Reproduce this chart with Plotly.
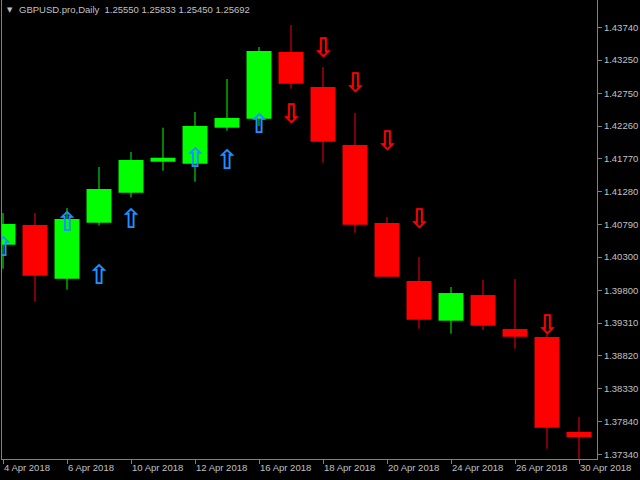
import plotly.graph_objects as go

dates = ["4 Apr 2018", "5 Apr 2018", "6 Apr 2018", "9 Apr 2018", "10 Apr 2018",
         "11 Apr 2018", "12 Apr 2018", "13 Apr 2018", "16 Apr 2018", "17 Apr 2018",
         "18 Apr 2018", "19 Apr 2018", "20 Apr 2018", "23 Apr 2018", "24 Apr 2018",
         "25 Apr 2018", "26 Apr 2018", "27 Apr 2018", "30 Apr 2018"]
opens  = [1.40485, 1.40780, 1.39975, 1.40814, 1.41263, 1.41727, 1.41697, 1.42237, 1.42371, 1.43370,
          1.42846, 1.41977, 1.40810, 1.39941, 1.39347, 1.39731, 1.39222, 1.39102, 1.37680]
highs  = [1.40959, 1.40959, 1.41034, 1.41648, 1.41873, 1.42237, 1.42472, 1.42966, 1.43445, 1.43774,
          1.43145, 1.42457, 1.40899, 1.40300, 1.39851, 1.39956, 1.39971, 1.39162, 1.37905]
lows   = [1.40125, 1.39631, 1.39811, 1.40775, 1.41194, 1.41593, 1.41428, 1.42192, 1.42262, 1.42821,
          1.41712, 1.40664, 1.40005, 1.39227, 1.39152, 1.39207, 1.38927, 1.37430, 1.37250]
closes = [1.40795, 1.40020, 1.40869, 1.41319, 1.41753, 1.41787, 1.42262, 1.42382, 1.43385, 1.42895,
          1.42027, 1.40784, 1.40005, 1.39362, 1.39761, 1.39272, 1.39107, 1.37744, 1.37605]

up_arrow_idx = [0, 2, 3, 4, 6, 7, 8]
up_arrow_val = [1.40420, 1.40795, 1.39996, 1.40836, 1.41750, 1.41720, 1.42259]
dn_arrow_idx = [9, 10, 11, 12, 13, 17]
dn_arrow_val = [1.42404, 1.43396, 1.42868, 1.42000, 1.40832, 1.39248]

tick_idx = [0, 2, 4, 6, 8, 10, 12, 14, 16, 18]
price_ticks = [1.43740, 1.43250, 1.42750, 1.42260, 1.41770, 1.41280, 1.40790,
               1.40300, 1.39800, 1.39310, 1.38820, 1.38330, 1.37840, 1.37340]
title_text = "GBPUSD.pro,Daily  1.25550 1.25833 1.25450 1.25692"

GREEN = "#00FF00"
RED = "#FF0000"
BLUE = "#1E90FF"
AXIS = "#808080"
TEXT = "#C0C0C0"
FONT = "Liberation Sans"

n = len(dates)
idx = list(range(n))

fig = go.Figure()

for bull, color in [(True, GREEN), (False, RED)]:
    xs, base, size = [], [], []
    wx, wy = [], []
    for i in idx:
        o, c = opens[i], closes[i]
        if (c >= o) != bull:
            continue
        xs.append(i)
        base.append(min(o, c))
        size.append(abs(c - o))
        wx += [i, i, None]
        wy += [highs[i], lows[i], None]
    fig.add_trace(go.Bar(x=xs, y=size, base=base, width=0.78,
                         marker=dict(color=color, line=dict(width=0)),
                         hoverinfo="skip", showlegend=False))
    fig.add_trace(go.Scatter(x=wx, y=wy, mode="lines",
                             line=dict(color=color, width=1),
                             hoverinfo="skip", showlegend=False))

ARROW_SIZE = 27
fig.add_trace(go.Scatter(x=up_arrow_idx, y=up_arrow_val, mode="text",
                         text=["\u21e7"] * len(up_arrow_idx),
                         textfont=dict(family="DejaVu Sans", size=ARROW_SIZE, color=BLUE,
                                       weight="bold"),
                         textposition="middle center", cliponaxis=True,
                         hoverinfo="skip", showlegend=False))
fig.add_trace(go.Scatter(x=dn_arrow_idx, y=dn_arrow_val, mode="text",
                         text=["\u21e9"] * len(dn_arrow_idx),
                         textfont=dict(family="DejaVu Sans", size=ARROW_SIZE, color=RED,
                                       weight="bold"),
                         textposition="middle center", cliponaxis=True,
                         hoverinfo="skip", showlegend=False))

fig.update_layout(
    width=640, height=480,
    margin=dict(l=2, r=43, t=0, b=21),
    paper_bgcolor="#000000", plot_bgcolor="#000000",
    barmode="overlay",
    font=dict(family=FONT, size=9.5, color=TEXT),
    xaxis=dict(range=[-0.03125, 18.5625], tickmode="array", tickvals=tick_idx,
               ticktext=[dates[i] for i in tick_idx], ticks="outside", ticklen=4,
               tickcolor=AXIS, showline=True, linecolor=AXIS, linewidth=1,
               showgrid=False, zeroline=False, ticklabelposition="outside right",
               tickfont=dict(family=FONT, size=9.5, color=TEXT), fixedrange=True),
    yaxis=dict(range=[1.37276, 1.44149], side="right", tickmode="array",
               tickvals=price_ticks, ticktext=["%.5f" % v for v in price_ticks],
               ticks="outside", ticklen=4, tickcolor=AXIS, showline=True,
               mirror=True, linecolor=AXIS, linewidth=1, showgrid=False,
               zeroline=False, tickfont=dict(family=FONT, size=9.5, color=TEXT),
               fixedrange=True),
    showlegend=False,
)

fig.add_annotation(xref="paper", yref="paper", x=(10 - 2) / 595, y=1 - 10 / 459,
                   text="\u25bc", showarrow=False, xanchor="center", yanchor="middle",
                   font=dict(family="DejaVu Sans", size=7, color=TEXT))
fig.add_annotation(xref="paper", yref="paper", x=(17 - 2) / 595, y=1 - 10 / 459,
                   text=title_text, showarrow=False, xanchor="left", yanchor="middle",
                   font=dict(family=FONT, size=9.5, color=TEXT))

fig.write_html("out.html", config={"displayModeBar": False},
               post_script="document.body.style.margin='0';"
                           "document.body.style.overflow='hidden';")
